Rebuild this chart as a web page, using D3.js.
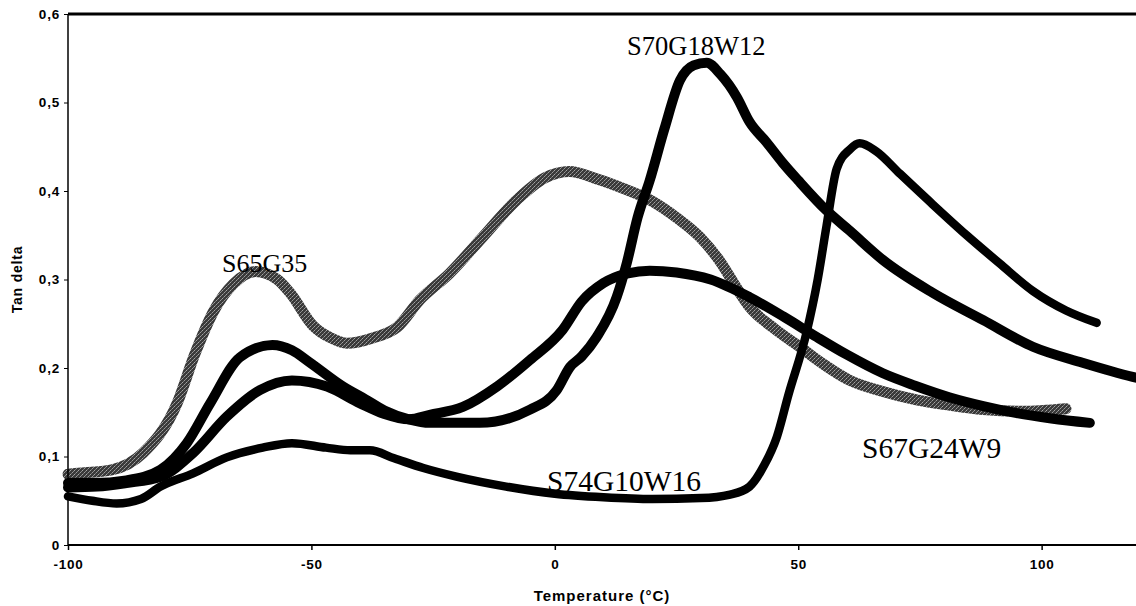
<!DOCTYPE html>
<html>
<head>
<meta charset="utf-8">
<script src="https://cdn.jsdelivr.net/npm/d3@7"></script>
<style>
  html, body { margin: 0; padding: 0; background: #fff; }
  svg { display: block; }
</style>
</head>
<body>
<svg id="chart" width="1136" height="606"></svg>
<script>
// Tan delta vs temperature for four blend compositions
const xTicks = [-100, -50, 0, 50, 100];
const yTicks = [0, 0.1, 0.2, 0.3, 0.4, 0.5, 0.6];
const yTickLabels = ["0", "0,1", "0,2", "0,3", "0,4", "0,5", "0,6"];

const s65g35T = [-100, -98, -91, -84.6, -77.6, -74, -70, -66, -61.5, -57, -54.4, -49.7, -46, -42.7, -37.4, -32.4, -27.7, -21.6, -14.8, -7.8, -2, 3, 9, 14, 19.5, 25, 29.8, 34, 37.4, 40, 45, 50.3, 55, 60.6, 67, 74.3, 81, 88, 96, 105];
const s65g35V = [0.08, 0.081, 0.085, 0.104, 0.16, 0.215, 0.265, 0.295, 0.309, 0.3, 0.285, 0.248, 0.234, 0.228, 0.234, 0.246, 0.277, 0.307, 0.348, 0.39, 0.415, 0.422, 0.413, 0.403, 0.39, 0.37, 0.348, 0.32, 0.29, 0.269, 0.245, 0.224, 0.205, 0.186, 0.174, 0.164, 0.158, 0.153, 0.151, 0.154];

const s70g18w12T = [-100, -94.7, -88, -81, -75.6, -70.8, -64.7, -58, -54, -50.3, -43.5, -39, -35, -30, -25.7, -15.4, -5.1, 0.4, 3.1, 5.5, 8.6, 12.7, 14.8, 17, 19.5, 22.5, 25.7, 28.5, 31.2, 34, 37.4, 40, 43.5, 46.8, 50, 55.8, 60.6, 67.4, 77.6, 88, 98.2, 108.4, 118.7, 121];
const s70g18w12V = [0.07, 0.07, 0.073, 0.085, 0.115, 0.16, 0.212, 0.226, 0.22, 0.206, 0.179, 0.165, 0.152, 0.142, 0.138, 0.138, 0.153, 0.175, 0.201, 0.213, 0.235, 0.28, 0.319, 0.37, 0.412, 0.47, 0.525, 0.542, 0.545, 0.532, 0.506, 0.478, 0.455, 0.432, 0.412, 0.378, 0.355, 0.322, 0.285, 0.254, 0.224, 0.206, 0.19, 0.187];

const s67g24w9T = [-100, -94, -88, -81, -74.3, -67.4, -60.6, -54, -46.8, -40, -35, -30, -25.7, -18.9, -11.9, -5.1, 1.6, 5.5, 10, 15, 19.5, 25, 32, 40, 47, 53.8, 60, 67.4, 74, 81, 88, 94.9, 102, 109.9];
const s67g24w9V = [0.065, 0.066, 0.07, 0.077, 0.104, 0.145, 0.175, 0.186, 0.179, 0.16, 0.148, 0.142, 0.147, 0.156, 0.179, 0.209, 0.243, 0.275, 0.296, 0.307, 0.31, 0.308, 0.3, 0.28, 0.258, 0.235, 0.215, 0.194, 0.18, 0.167, 0.157, 0.149, 0.143, 0.138];

const s74g10w16T = [-100, -95, -90, -85, -81, -74.3, -67.4, -60, -54, -47, -42, -38, -33, -27, -20, -10, 0, 10, 20, 30, 36, 40, 43, 45.6, 48, 51.7, 54, 55.8, 57.9, 60.6, 62.6, 66, 70.8, 77.6, 84.6, 91.4, 98.2, 105, 111.3];
const s74g10w16V = [0.055, 0.05, 0.047, 0.052, 0.066, 0.081, 0.099, 0.11, 0.115, 0.11, 0.107, 0.107, 0.098, 0.087, 0.077, 0.066, 0.058, 0.054, 0.052, 0.053, 0.057, 0.066, 0.09, 0.122, 0.17, 0.24, 0.3, 0.36, 0.425, 0.447, 0.454, 0.445, 0.42, 0.385, 0.35, 0.318, 0.287, 0.265, 0.251];

const seriesNames = ["S65G35", "S70G18W12", "S67G24W9", "S74G10W16"];
const seriesT = [s65g35T, s70g18w12T, s67g24w9T, s74g10w16T];
const seriesV = [s65g35V, s70g18w12V, s67g24w9V, s74g10w16V];

const svg = d3.select("#chart");
const plotL = 68, plotR = 1139, plotT = 14, plotB = 545;

const x = d3.scaleLinear().domain([-100, 120]).range([plotL, plotR]);
const y = d3.scaleLinear().domain([0, 0.6]).range([plotB, plotT]);

// grainy grey stroke texture
const defs = svg.append("defs");
const pat = defs.append("pattern").attr("id", "grain")
  .attr("patternUnits", "userSpaceOnUse").attr("width", 4).attr("height", 4);
pat.append("rect").attr("width", 4).attr("height", 4).attr("fill", "#3a3a3a");
pat.append("rect").attr("x", 0).attr("y", 0).attr("width", 1).attr("height", 1).attr("fill", "#9a9a9a");
pat.append("rect").attr("x", 2).attr("y", 2).attr("width", 1).attr("height", 1).attr("fill", "#a5a5a5");
pat.append("rect").attr("x", 3).attr("y", 1).attr("width", 1).attr("height", 1).attr("fill", "#777");
pat.append("rect").attr("x", 1).attr("y", 3).attr("width", 1).attr("height", 1).attr("fill", "#888");

const line = d3.line()
  .x(d => x(d[0]))
  .y(d => y(d[1]))
  .curve(d3.curveMonotoneX);

const styles = [
  { stroke: "url(#grain)", width: 11 },
  { stroke: "#000", width: 10 },
  { stroke: "#000", width: 10 },
  { stroke: "#000", width: 8.5 }
];

const g = svg.append("g");
seriesNames.forEach((name, i) => {
  const pts = seriesT[i].map((t, k) => [t, seriesV[i][k]]);
  g.append("path")
    .datum(pts)
    .attr("d", line)
    .attr("fill", "none")
    .attr("stroke", styles[i].stroke)
    .attr("stroke-width", styles[i].width)
    .attr("stroke-linecap", "round")
    .attr("stroke-linejoin", "round");
});

// frame: top border, left and bottom axes
svg.append("line").attr("x1", plotL).attr("x2", 1136).attr("y1", plotT).attr("y2", plotT)
  .attr("stroke", "#000").attr("stroke-width", 3);

const tickFont = "Liberation Sans, Arial, sans-serif";

const xAxis = d3.axisBottom(x).tickValues(xTicks).tickSize(5)
  .tickFormat(d => String(d));
const gx = svg.append("g").attr("transform", `translate(0,${plotB})`).call(xAxis);
gx.select(".domain").attr("d", `M${plotL},0H1136`).attr("stroke-width", 2);
gx.selectAll(".tick line").attr("stroke-width", 1.5);
gx.selectAll(".tick text")
  .attr("font-family", tickFont)
  .attr("font-size", 13.5).attr("font-weight", "bold").attr("fill", "#000")
  .attr("letter-spacing", 0.8)
  .attr("dy", "1.15em");

const yAxis = d3.axisLeft(y).tickValues(yTicks).tickSize(4)
  .tickFormat((d, i) => yTickLabels[i]);
const gy = svg.append("g").attr("transform", `translate(${plotL},0)`).call(yAxis);
gy.select(".domain").attr("d", `M0,${plotT}V${plotB}`).attr("stroke-width", 1.5);
gy.selectAll(".tick text")
  .attr("font-family", tickFont)
  .attr("font-size", 13.5).attr("font-weight", "bold").attr("fill", "#000")
  .attr("letter-spacing", 0.8)
  .attr("x", -8);

// axis titles
svg.append("text")
  .attr("x", (plotL + 1136) / 2).attr("y", 601)
  .attr("text-anchor", "middle")
  .attr("font-family", tickFont)
  .attr("font-size", 15).attr("font-weight", "bold")
  .attr("letter-spacing", 1)
  .text("Temperature (°C)");

svg.append("text")
  .attr("transform", `translate(22,${(plotT + plotB) / 2}) rotate(-90)`)
  .attr("text-anchor", "middle")
  .attr("font-family", tickFont)
  .attr("font-size", 14).attr("font-weight", "bold")
  .attr("letter-spacing", 0.8)
  .text("Tan delta");

// series labels
const labelPos = [
  { x: 222, y: 272, size: 26 },
  { x: 627, y: 55, size: 26.5 },
  { x: 862, y: 458, size: 29.5 },
  { x: 547, y: 491, size: 29.5 }
];
seriesNames.forEach((name, i) => {
  svg.append("text")
    .attr("x", labelPos[i].x).attr("y", labelPos[i].y)
    .attr("font-family", "Liberation Serif, Times New Roman, serif")
    .attr("font-size", labelPos[i].size)
    .attr("fill", "#000")
    .text(name);
});
</script>
</body>
</html>
